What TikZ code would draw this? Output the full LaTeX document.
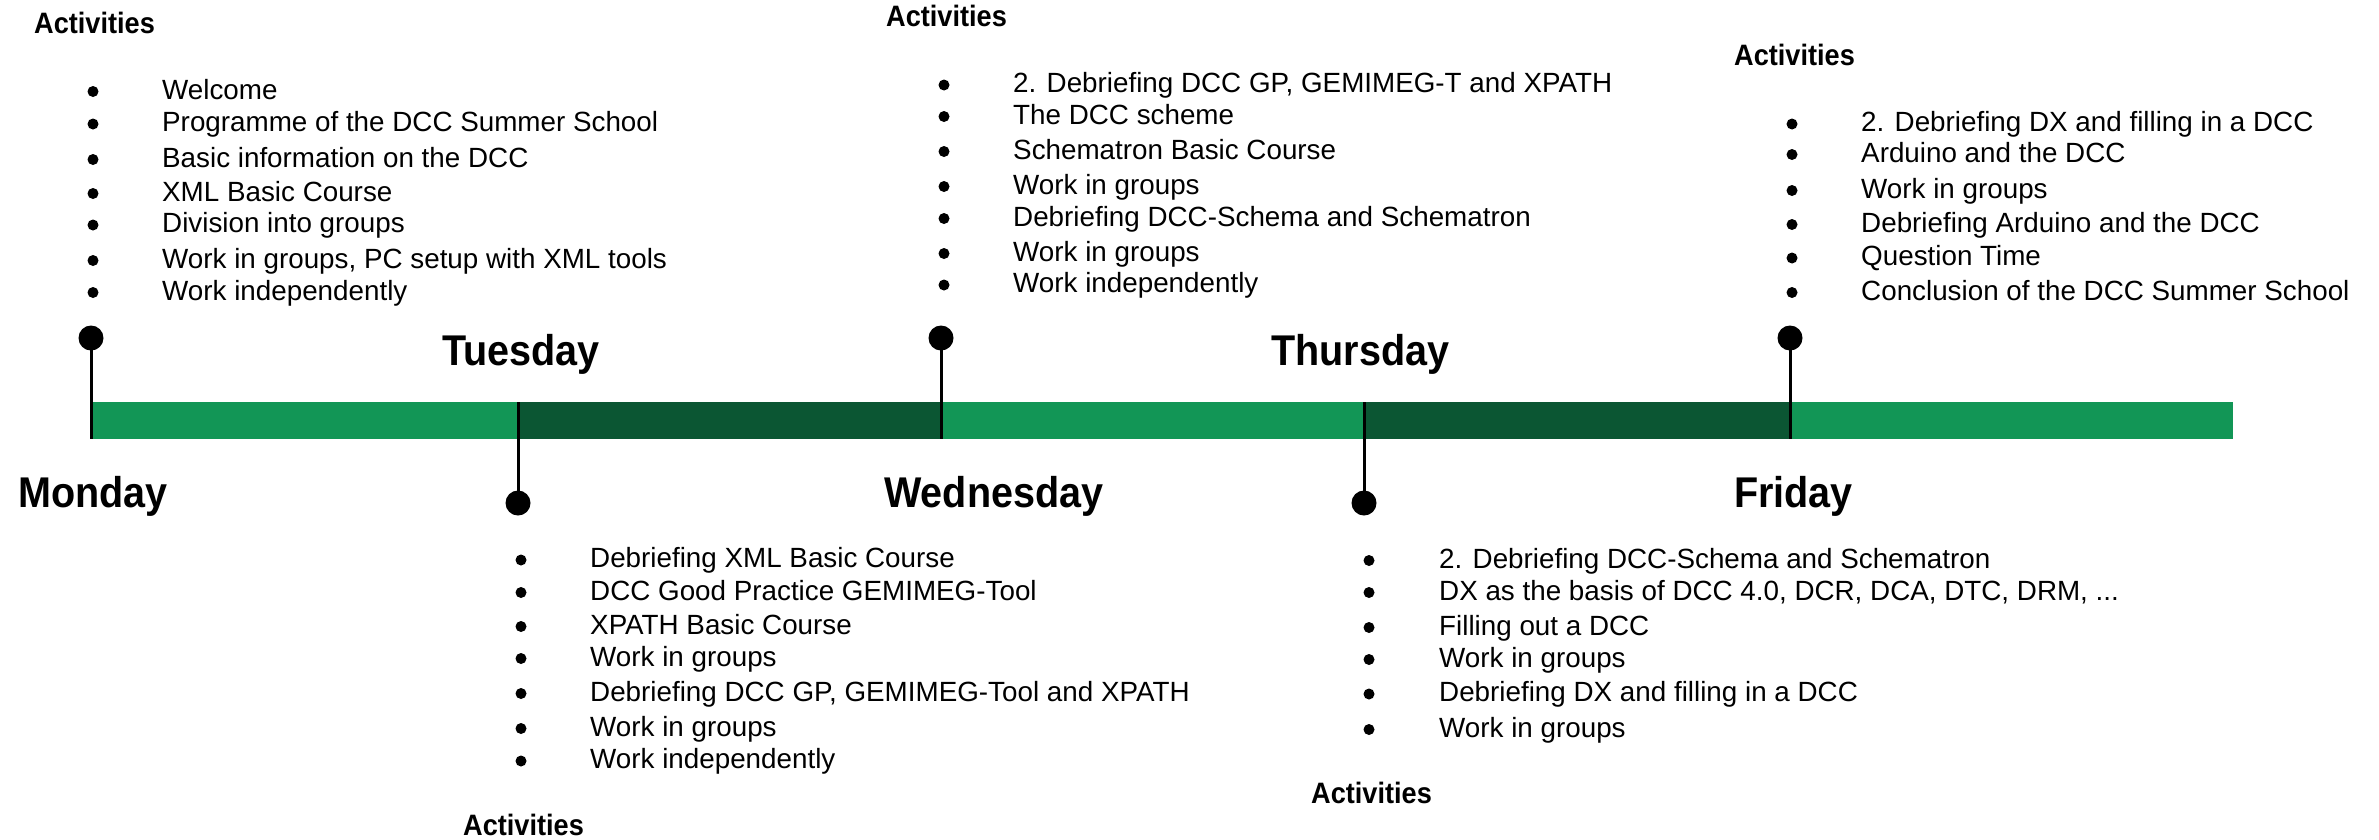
\documentclass[tikz,border=0pt]{standalone}
\usepackage{fontspec}
\setmainfont{Liberation Sans}
\newfontfamily\dayfont{Liberation Sans}[FakeStretch=0.92]
\definecolor{barlight}{RGB}{18,150,86}
\definecolor{bardark}{RGB}{11,86,51}
\begin{document}
\begin{tikzpicture}[x=1pt,y=-1pt,
  item/.style={anchor=base west, inner sep=0pt, font=\fontsize{27.8}{33}\selectfont},
  acttitle/.style={anchor=base west, inner sep=0pt, font=\dayfont\bfseries\fontsize{29.5}{35}\selectfont},
  daylabel/.style={anchor=base west, inner sep=0pt, font=\dayfont\bfseries\fontsize{43}{50}\selectfont},
  pinhead/.style={circle, fill=black, minimum size=25pt, inner sep=0pt},
  pinline/.style={line width=3pt},
  dot/.style={circle, fill=black, minimum size=11pt, inner sep=0pt}]
\useasboundingbox (0,0) rectangle (2379,839);

% timeline bar
\fill[barlight] (91,402) rectangle (518,439);
\fill[bardark]  (518,402) rectangle (941,439);
\fill[barlight] (941,402) rectangle (1364,439);
\fill[bardark]  (1364,402) rectangle (1790,439);
\fill[barlight] (1790,402) rectangle (2233,439);

% pins
\node[pinhead] (monpin) at (91,338) {};
\node[pinhead] (tuepin) at (518,503) {};
\node[pinhead] (wedpin) at (941,338) {};
\node[pinhead] (thupin) at (1364,503) {};
\node[pinhead] (fripin) at (1790,338) {};
\coordinate (monbar) at (91,439);
\coordinate (tuebar) at (518,402);
\coordinate (wedbar) at (941,439);
\coordinate (thubar) at (1364,402);
\coordinate (fribar) at (1790,439);
\draw[pinline] (monpin.center) -- (monbar);
\draw[pinline] (tuepin.center) -- (tuebar);
\draw[pinline] (wedpin.center) -- (wedbar);
\draw[pinline] (thupin.center) -- (thubar);
\draw[pinline] (fripin.center) -- (fribar);

% day labels
\node[daylabel] (monday) at (18,507) {Monday};
\node[daylabel] (tuesday) at (442,365) {Tuesday};
\node[daylabel] (wednesday) at (884,507) {Wednesday};
\node[daylabel] (thursday) at (1271,365) {Thursday};
\node[daylabel] (friday) at (1734,507) {Friday};

% activity titles
\node[acttitle] (monact) at (34,33) {Activities};
\node[acttitle] (wedact) at (886,26) {Activities};
\node[acttitle] (friact) at (1734,65) {Activities};
\node[acttitle] (tueact) at (463,835) {Activities};
\node[acttitle] (thuact) at (1311,803) {Activities};

% Monday
\foreach \y/\t [count=\i] in {99/{Welcome},131.5/{Programme of the DCC Summer School},167/{Basic information on the DCC},201/{XML Basic Course},232.5/{Division into groups},268/{Work in groups, PC setup with XML tools},300/{Work independently}}{
  \node[dot] (monb\i) at (93,\y-7.5) {};
  \node[item] (mont\i) at (162,\y) {\t};
}
% Wednesday
\foreach \y/\t [count=\i] in {92.5/{2. Debriefing DCC GP, GEMIMEG-T and XPATH},124/{The DCC scheme},159/{Schematron Basic Course},194/{Work in groups},226/{Debriefing DCC-Schema and Schematron},261/{Work in groups},292.5/{Work independently}}{
  \node[dot] (wedb\i) at (944,\y-7.5) {};
  \node[item] (wedt\i) at (1013,\y) {\t};
}
% Friday
\foreach \y/\t [count=\i] in {131.5/{2. Debriefing DX and filling in a DCC},162/{Arduino and the DCC},198/{Work in groups},232/{Debriefing Arduino and the DCC},265.5/{Question Time},300/{Conclusion of the DCC Summer School}}{
  \node[dot] (frib\i) at (1792,\y-7.5) {};
  \node[item] (frit\i) at (1861,\y) {\t};
}
% Tuesday
\foreach \y/\t [count=\i] in {567.5/{Debriefing XML Basic Course},600/{DCC Good Practice GEMIMEG-Tool},634/{XPATH Basic Course},666/{Work in groups},701/{Debriefing DCC GP, GEMIMEG-Tool and XPATH},736/{Work in groups},768.5/{Work independently}}{
  \node[dot] (tueb\i) at (521,\y-7.5) {};
  \node[item] (tuet\i) at (590,\y) {\t};
}
% Thursday
\foreach \y/\t [count=\i] in {568/{2. Debriefing DCC-Schema and Schematron},600/{DX as the basis of DCC 4.0, DCR, DCA, DTC, DRM, ...},635/{Filling out a DCC},667/{Work in groups},701.5/{Debriefing DX and filling in a DCC},737/{Work in groups}}{
  \node[dot] (thub\i) at (1369,\y-7.5) {};
  \node[item] (thut\i) at (1439,\y) {\t};
}
\end{tikzpicture}
\end{document}
